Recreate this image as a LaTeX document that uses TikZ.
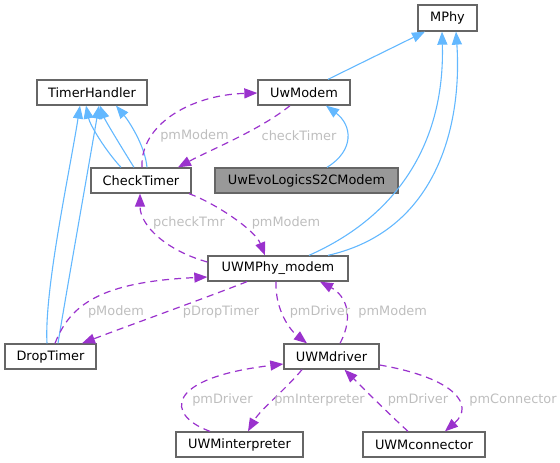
\documentclass[tikz,border=0pt]{standalone}
\usepackage{fontspec}
\setmainfont{DejaVu Sans}
\usetikzlibrary{arrows.meta}
\definecolor{boxline}{HTML}{666666}
\definecolor{hlfill}{HTML}{999999}
\definecolor{inh}{HTML}{63B8FF}
\definecolor{usg}{HTML}{9A32CD}
\definecolor{lblc}{HTML}{BEBEBE}
\tikzset{
  cls/.style={draw=boxline, line width=1.3pt, fill=white, minimum height=25pt, inner sep=0pt, font=\fontsize{12.9}{15}\selectfont},
  hl/.style={cls, fill=hlfill},
  inhedge/.style={draw=inh, line width=1.1pt, -{Triangle[length=13pt,width=10pt,fill=inh]}},
  usedge/.style={draw=usg, line width=1.2pt, dash pattern=on 7pt off 5pt, -{Triangle[length=13pt,width=10pt,fill=usg]}},
  lbl/.style={text=lblc, inner sep=0pt, font=\fontsize{12.9}{15}\selectfont}
}
\begin{document}
\begin{tikzpicture}[x=1pt,y=-1pt]
\useasboundingbox (0,0) rectangle (560,463);
% nodes
\node[cls, minimum width=110pt] (th) at (92,92.5) {TimerHandler};
\node[cls, minimum width=92pt] (um) at (304,92.5) {UwModem};
\node[cls, minimum width=59pt, minimum height=26pt] (mp) at (447.5,18) {MPhy};
\node[cls, minimum width=100pt] (ct) at (141,180.5) {CheckTimer};
\node[hl, minimum width=183pt] (evo) at (306.5,180.5) {UwEvoLogicsS2CModem};
\node[cls, minimum width=140pt] (uph) at (278,268.5) {UWMPhy\_modem};
\node[cls, minimum width=91pt] (dt) at (50.5,356.5) {DropTimer};
\node[cls, minimum width=95pt] (drv) at (331.5,356.5) {UWMdriver};
\node[cls, minimum width=127pt] (ui) at (239.5,444.5) {UWMinterpreter};
\node[cls, minimum width=122pt] (uc) at (424,444.5) {UWMconnector};
% inheritance edges
\draw[inhedge] ([xshift=24pt]um.north) -- ([xshift=-22.5pt]mp.south);
\draw[inhedge] ([xshift=31pt]uph.north) .. controls (400,215) and (445,140) .. ([xshift=-5.5pt]mp.south);
\draw[inhedge] ([xshift=50pt]uph.north) .. controls (440,230) and (462,120) .. ([xshift=8.5pt]mp.south);
\draw[inhedge] ([xshift=20.5pt]evo.north) .. controls (355,150) and (352,125) .. ([xshift=22pt]um.south);
\draw[inhedge] ([xshift=-20pt]ct.north) .. controls (105,150) and (90,125) .. ([xshift=-6pt]th.south);
\draw[inhedge] ([xshift=-7pt]ct.north) .. controls (120,145) and (105,120) .. ([xshift=8pt]th.south);
\draw[inhedge] ([xshift=6pt]ct.north) .. controls (145,145) and (128,120) .. ([xshift=24pt]th.south);
\draw[inhedge] ([xshift=-3.5pt]dt.north) .. controls (44,290) and (70,170) .. ([xshift=-12pt]th.south);
\draw[inhedge] ([xshift=7.5pt]dt.north) .. controls (65,300) and (88,170) .. ([xshift=7pt]th.south);
% usage edges
\draw[usedge] ([xshift=1pt]ct.north) .. controls (140,125) and (190,95) .. ([yshift=-0.5pt]um.west);
\draw[usedge] ([xshift=-14pt]um.south) .. controls (260,130) and (210,150) .. ([xshift=37pt]ct.north);
\draw[usedge] ([xshift=48pt]ct.south) .. controls (215,203) and (255,230) .. ([xshift=-13pt]uph.north);
\draw[usedge] ([yshift=6.5pt]uph.west) .. controls (165,250) and (140,225) .. ([xshift=-1pt]ct.south);
\draw[usedge] ([xshift=4.5pt]dt.north) .. controls (70,305) and (100,282) .. ([yshift=-8.5pt]uph.west);
\draw[usedge] ([xshift=-31pt]uph.south) .. controls (200,300) and (130,325) .. ([xshift=31.5pt]dt.north);
\draw[usedge] ([xshift=-2pt]uph.south) .. controls (275,310) and (290,330) .. ([xshift=-24.5pt]drv.north);
\draw[usedge] ([xshift=8.5pt]drv.north) .. controls (355,315) and (345,295) .. ([xshift=42pt]uph.south);
\draw[usedge] ([xshift=-29.5pt]ui.north) .. controls (165,415) and (165,378) .. ([yshift=-7.5pt]drv.west);
\draw[usedge] ([xshift=-29.5pt]drv.south) .. controls (285,390) and (260,410) .. ([xshift=8.5pt]ui.north);
\draw[usedge] ([xshift=-16pt]uc.north) .. controls (390,415) and (365,390) .. ([xshift=13pt]drv.south);
\draw[usedge] ([yshift=-8.5pt]drv.east) .. controls (455,378) and (475,405) .. ([xshift=21pt]uc.north);
% labels
\node[lbl] (l1) at (194.5,136) {pmModem};
\node[lbl] (l2) at (299,136) {checkTimer};
\node[lbl] (l3) at (286,223) {pmModem};
\node[lbl] (l4) at (189,223) {pcheckTmr};
\node[lbl] (l5) at (116,312) {pModem};
\node[lbl] (l6) at (221,312) {pDropTimer};
\node[lbl] (l7) at (320,312) {pmDriver};
\node[lbl] (l8) at (392.7,312) {pmModem};
\node[lbl] (l9) at (222.5,400) {pmDriver};
\node[lbl] (l10) at (319.5,400) {pmInterpreter};
\node[lbl] (l11) at (418,400) {pmDriver};
\node[lbl] (l12) at (513,400) {pmConnector};
\end{tikzpicture}
\end{document}
